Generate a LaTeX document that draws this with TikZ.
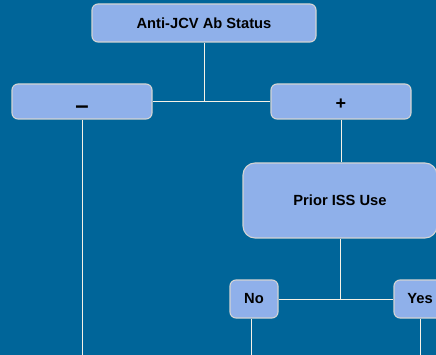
\documentclass[tikz,border=0pt]{standalone}
\usepackage{fontspec}
\setmainfont{Liberation Sans}
\definecolor{bgblue}{RGB}{0,101,153}
\definecolor{boxfill}{RGB}{143,176,234}
\definecolor{boxedge}{RGB}{212,212,212}
\definecolor{wire}{RGB}{246,242,230}
\begin{document}
\begin{tikzpicture}[x=1pt,y=-1pt,
  decision/.style={draw=boxedge, line width=1.1pt, fill=boxfill, rounded corners=6pt,
    inner sep=0pt, font=\bfseries\fontsize{14.7}{16}\selectfont, text=black},
  link/.style={draw=wire, line width=0.9pt}]
  \useasboundingbox (0,0) rectangle (436,355);
  \fill[bgblue] (0,0) rectangle (436,355);
  \clip (0,0) rectangle (436,355);

  % decision boxes
  \node[decision, minimum width=224pt, minimum height=38pt] (status) at (204,23) {Anti-JCV Ab Status};
  \node[decision, minimum width=140pt, minimum height=35pt] (neg) at (82,101.5) {\raisebox{-12pt}[0pt][0pt]{\fontsize{24}{24}\selectfont --}};
  \node[decision, minimum width=140pt, minimum height=35pt] (pos) at (341,101.5) {\raisebox{-8.5pt}[0pt][0pt]{\fontsize{18}{18}\selectfont +}};
  \node[decision, rounded corners=12pt, minimum width=194pt, minimum height=75pt] (iss) at (340,200.5) {Prior ISS Use};
  \node[decision, minimum width=48pt, minimum height=38pt] (no) at (254,299) {No};
  \node[decision, minimum width=52pt, minimum height=38pt] (yes) at (420,299) {Yes};

  % loose ends running off the bottom
  \coordinate (negEnd) at (82,356);
  \coordinate (noEnd) at (251,356);
  \coordinate (yesEnd) at (420,356);

  % connectors
  \draw[link] (status.south) -- (status.south |- neg.east);
  \draw[link] (neg.east) -- (pos.west);
  \draw[link] (pos.south) -- (pos.south |- iss.north);
  \draw[link] (iss.south) -- (iss.south |- no.east);
  \draw[link] (no.east) -- (yes.west);
  \draw[link] (neg.south) -- (negEnd);
  \draw[link] (no.south -| noEnd) -- (noEnd);
  \draw[link] (yes.south) -- (yesEnd);
\end{tikzpicture}
\end{document}
